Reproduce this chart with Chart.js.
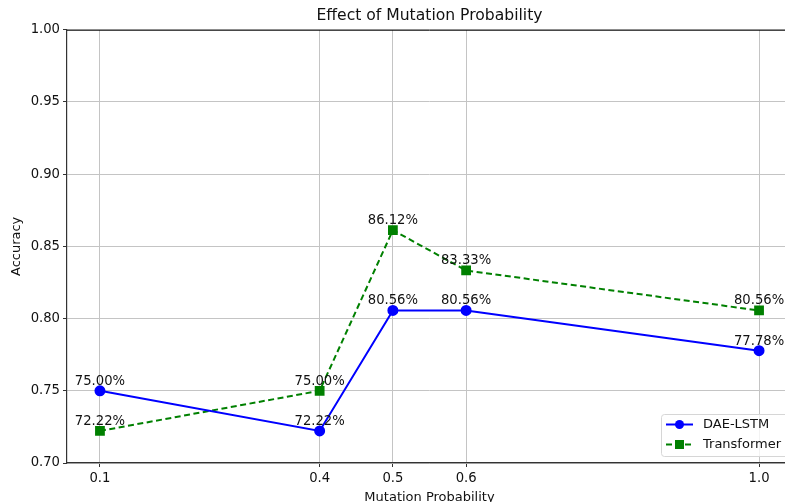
<!DOCTYPE html>
<html>
<head>
<meta charset="utf-8">
<script src="https://cdn.jsdelivr.net/npm/chart.js@4.4.1/dist/chart.umd.min.js"></script>
<style>
    html, body { margin: 0; padding: 0; background: #fff; }
    #wrap { width: 785px; height: 502px; overflow: hidden; position: relative; }
    #grafico { position: absolute; left: 0; top: 0; }
</style>
</head>
<body>
<div id="wrap"><canvas id="grafico" width="800" height="505"></canvas></div>
<script>
const probabilidades = [0.1, 0.4, 0.5, 0.6, 1.0];
const daeLstm = [0.7500, 0.7222, 0.8056, 0.8056, 0.7778];
const transformer = [0.7222, 0.7500, 0.8612, 0.8333, 0.8056];
const ticksX = [0.1, 0.4, 0.5, 0.6, 1.0];
const etiquetasX = ['0.1', '0.4', '0.5', '0.6', '1.0'];

const fuente = 'DejaVu Sans';
const azul = '#0000ff';
const verde = '#008000';
const texto = '#111';

function puntos(valores) {
    return probabilidades.map((p, i) => ({ x: p, y: valores[i] }));
}

// etiquetas de porcentaje sobre cada punto
const pluginEtiquetas = {
    id: 'etiquetas',
    afterDatasetsDraw(chart) {
        const ctx = chart.ctx;
        ctx.save();
        ctx.font = '13.2px "' + fuente + '"';
        ctx.fillStyle = texto;
        ctx.textAlign = 'center';
        ctx.textBaseline = 'alphabetic';
        chart.data.datasets.forEach((ds, i) => {
            chart.getDatasetMeta(i).data.forEach((el, j) => {
                const txt = (ds.data[j].y * 100).toFixed(2) + '%';
                ctx.fillText(txt, el.x, el.y - 6);
            });
        });
        ctx.restore();
    }
};

// borde superior y leyenda estilo matplotlib
const pluginMarco = {
    id: 'marco',
    afterDraw(chart) {
        const ctx = chart.ctx;
        const a = chart.chartArea;
        ctx.save();
        ctx.strokeStyle = '#000';
        ctx.lineWidth = 1;
        ctx.beginPath();
        ctx.moveTo(a.left, a.top + 0.5);
        ctx.lineTo(a.right, a.top + 0.5);
        ctx.stroke();

        const lx = 661, ly = 414, lw = 140, lh = 42;
        ctx.fillStyle = 'rgba(255,255,255,0.8)';
        ctx.strokeStyle = '#d6d6d6';
        ctx.beginPath();
        ctx.roundRect(lx + 0.5, ly + 0.5, lw, lh, 3);
        ctx.fill();
        ctx.stroke();

        const filas = [
            { y: ly + 10.5, color: azul, dash: [], marca: 'circulo', texto: 'DAE-LSTM' },
            { y: ly + 30.5, color: verde, dash: [6, 3.5], marca: 'cuadro', texto: 'Transformer' }
        ];
        filas.forEach(f => {
            ctx.strokeStyle = f.color;
            ctx.fillStyle = f.color;
            ctx.lineWidth = 2;
            ctx.setLineDash(f.dash);
            ctx.beginPath();
            ctx.moveTo(lx + 5, f.y);
            ctx.lineTo(lx + 32, f.y);
            ctx.stroke();
            ctx.setLineDash([]);
            if (f.marca === 'circulo') {
                ctx.beginPath();
                ctx.arc(lx + 18.5, f.y, 4.5, 0, Math.PI * 2);
                ctx.fill();
            } else {
                ctx.fillRect(lx + 14, f.y - 4.5, 9, 9);
            }
            ctx.fillStyle = texto;
            ctx.font = '13px "' + fuente + '"';
            ctx.textAlign = 'left';
            ctx.textBaseline = 'middle';
            ctx.fillText(f.texto, lx + 42, f.y);
        });
        ctx.restore();
    }
};

new Chart(document.getElementById('grafico').getContext('2d'), {
    type: 'line',
    data: {
        datasets: [
            {
                label: 'DAE-LSTM',
                data: puntos(daeLstm),
                borderColor: azul,
                backgroundColor: azul,
                borderWidth: 2,
                pointStyle: 'circle',
                pointRadius: 4.5,
                pointHoverRadius: 4.5,
                tension: 0
            },
            {
                label: 'Transformer',
                data: puntos(transformer),
                borderColor: verde,
                backgroundColor: verde,
                borderWidth: 2,
                borderDash: [6, 3.5],
                pointStyle: 'rect',
                pointRadius: 5.5,
                pointHoverRadius: 5.5,
                tension: 0
            }
        ]
    },
    options: {
        responsive: false,
        animation: false,
        events: [],
        layout: { padding: { left: 0, right: 8, top: 0, bottom: 0 } },
        plugins: {
            legend: { display: false },
            tooltip: { enabled: false },
            title: {
                display: true,
                fullSize: false,
                text: 'Effect of Mutation Probability',
                color: texto,
                font: { family: fuente, size: 15.6, weight: 'normal' },
                padding: { top: 7, bottom: 4 }
            }
        },
        scales: {
            x: {
                type: 'linear',
                min: 0.055,
                max: 1.045,
                afterBuildTicks(scale) {
                    scale.ticks = ticksX.map(v => ({ value: v }));
                },
                afterFit(scale) { scale.height = 42; },
                ticks: {
                    color: texto,
                    font: { family: fuente, size: 13.2 },
                    padding: 4,
                    maxRotation: 0,
                    autoSkip: false,
                    callback: (v) => etiquetasX[ticksX.indexOf(v)] ?? ''
                },
                grid: { color: '#c4c4c4', tickColor: '#333', tickLength: 4, lineWidth: 1 },
                border: { color: '#333', width: 1.2 },
                title: {
                    display: true,
                    text: 'Mutation Probability',
                    color: texto,
                    font: { family: fuente, size: 13 },
                    padding: { top: 0, bottom: 0 }
                }
            },
            y: {
                min: 0.70,
                max: 1.00,
                afterFit(scale) { scale.width = 67; },
                ticks: {
                    stepSize: 0.05,
                    color: texto,
                    font: { family: fuente, size: 13.2 },
                    padding: 3,
                    callback: (v) => v.toFixed(2)
                },
                grid: { color: '#c4c4c4', tickColor: '#333', tickLength: 4, lineWidth: 1 },
                border: { color: '#333', width: 1.2 },
                title: {
                    display: true,
                    text: 'Accuracy',
                    color: texto,
                    font: { family: fuente, size: 13 },
                    padding: { top: 9, bottom: 0 }
                }
            }
        }
    },
    plugins: [pluginEtiquetas, pluginMarco]
});
</script>
</body>
</html>
